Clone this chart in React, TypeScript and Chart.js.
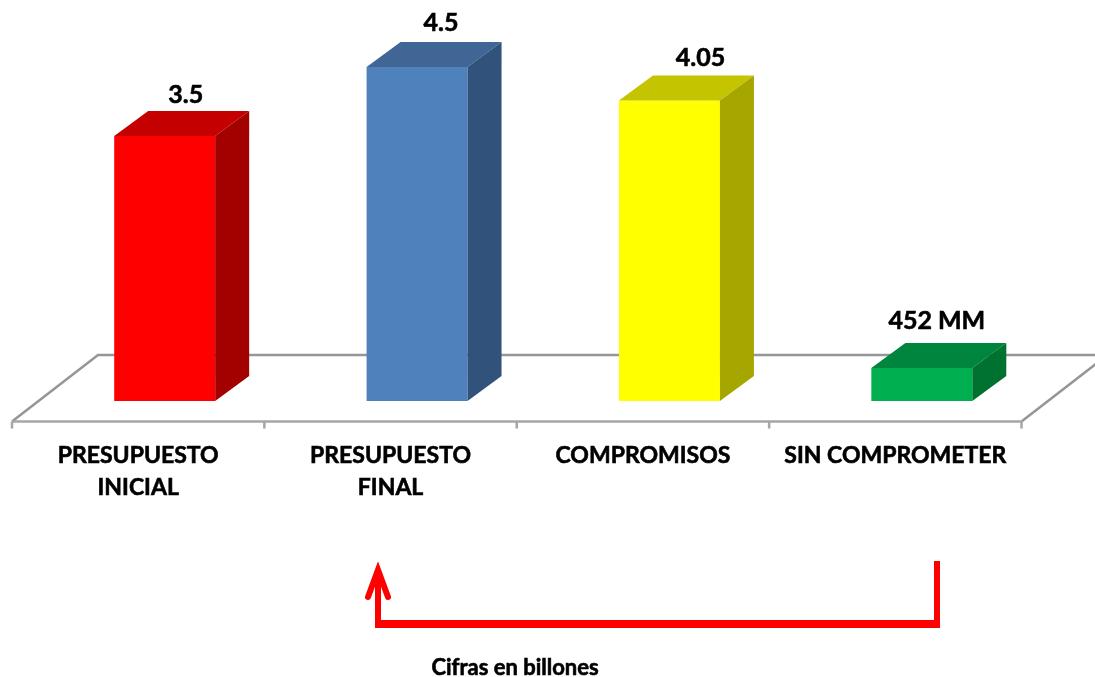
import React, { useEffect, useRef } from "react";
import { Chart, registerables } from "chart.js";

Chart.register(...registerables);

const categories = [
  ["PRESUPUESTO", "INICIAL"],
  ["PRESUPUESTO", "FINAL"],
  ["COMPROMISOS"],
  ["SIN COMPROMETER"],
];
const values = [3.57, 4.5, 4.05, 0.445];
const valueLabels = ["3.5", "4.5", "4.05", "452 MM"];
const caption = "Cifras en billones";

const frontColors = ["#FF0000", "#4F81BD", "#FFFF00", "#00B050"];
const topColors = ["#C40000", "#3F6695", "#C4C400", "#00853D"];
const sideColors = ["#A30000", "#31527A", "#A6A600", "#00722F"];
const labelShift = [21, 24, 31, 15];
const labelRise = [16, 19, 18, 22];

const DEPTH_X = 34;
const DEPTH_Y = 25;
const AXIS_SHIFT = 26.5;
const FONT = "Lato, Carlito, sans-serif";

const face = (ctx: CanvasRenderingContext2D, pts: number[][], color: string) => {
  ctx.fillStyle = color;
  ctx.beginPath();
  pts.forEach(([x, y], i) => (i ? ctx.lineTo(x, y) : ctx.moveTo(x, y)));
  ctx.closePath();
  ctx.fill();
};

const boldText = (ctx: CanvasRenderingContext2D, text: string, x: number, y: number) => {
  ctx.fillStyle = "#000";
  ctx.strokeStyle = "#000";
  ctx.lineWidth = 0.6;
  ctx.textAlign = "center";
  ctx.textBaseline = "middle";
  ctx.strokeText(text, x, y);
  ctx.fillText(text, x, y);
};

const floorPlugin = {
  id: "floor",
  beforeDatasetsDraw(chart: any) {
    const { ctx, chartArea } = chart;
    const left = chartArea.left - AXIS_SHIFT;
    const right = chartArea.right - AXIS_SHIFT;
    const front = chartArea.bottom + 20.5;
    const back = chartArea.bottom - 46;
    const run = 86;
    ctx.save();
    ctx.strokeStyle = "#969696";
    ctx.lineWidth = 2.5;
    ctx.beginPath();
    ctx.moveTo(left, front);
    ctx.lineTo(left + run, back);
    ctx.lineTo(right + run, back);
    ctx.lineTo(right, front);
    ctx.stroke();
    ctx.strokeStyle = "#A6A6A6";
    ctx.lineWidth = 2.5;
    ctx.beginPath();
    ctx.moveTo(left, front);
    ctx.lineTo(right, front);
    const step = (right - left) / categories.length;
    for (let i = 0; i <= categories.length; i++) {
      ctx.moveTo(left + step * i, front);
      ctx.lineTo(left + step * i, front + 7);
    }
    ctx.stroke();
    ctx.restore();
  },
};

const barFacesPlugin = {
  id: "barFaces",
  afterDatasetsDraw(chart: any) {
    const { ctx } = chart;
    const meta = chart.getDatasetMeta(0);
    ctx.save();
    meta.data.forEach((bar: any, i: number) => {
      const { x, y, base, width } = bar.getProps(["x", "y", "base", "width"], true);
      const l = x - width / 2;
      const r = x + width / 2;
      face(ctx, [[l, y], [r, y], [r + DEPTH_X, y - DEPTH_Y], [l + DEPTH_X, y - DEPTH_Y]], topColors[i]);
      face(ctx, [[r, y], [r + DEPTH_X, y - DEPTH_Y], [r + DEPTH_X, base - DEPTH_Y], [r, base]], sideColors[i]);
      ctx.font = `bold 25px ${FONT}`;
      boldText(ctx, valueLabels[i], x + labelShift[i], y - DEPTH_Y - labelRise[i]);
    });
    ctx.restore();
  },
};

const annotationPlugin = {
  id: "annotation",
  afterDraw(chart: any) {
    const { ctx } = chart;
    ctx.save();
    ctx.strokeStyle = "#FF0000";
    ctx.lineWidth = 6;
    ctx.lineCap = "butt";
    ctx.beginPath();
    ctx.moveTo(937, 561);
    ctx.lineTo(937, 628);
    ctx.moveTo(378, 628);
    ctx.lineTo(378, 572);
    ctx.stroke();
    ctx.lineWidth = 8;
    ctx.beginPath();
    ctx.moveTo(375, 624);
    ctx.lineTo(940, 624);
    ctx.stroke();
    ctx.lineWidth = 6;
    ctx.lineCap = "round";
    ctx.lineJoin = "miter";
    ctx.beginPath();
    ctx.moveTo(368, 597);
    ctx.lineTo(378, 570);
    ctx.lineTo(388, 597);
    ctx.stroke();
    ctx.font = `bold 22px ${FONT}`;
    boldText(ctx, caption, 515, 668);
    ctx.restore();
  },
};

export default function App() {
  const ref = useRef<HTMLCanvasElement>(null);
  useEffect(() => {
    const chart = new Chart(ref.current!, {
      type: "bar",
      data: {
        labels: categories,
        datasets: [
          {
            data: values,
            backgroundColor: frontColors,
            borderWidth: 0,
            categoryPercentage: 1,
            barPercentage: 0.4,
          },
        ],
      },
      options: {
        responsive: false,
        animation: false,
        layout: { padding: { left: 38.5, right: 47, top: 30, bottom: 0 } },
        plugins: { legend: { display: false }, tooltip: { enabled: false } },
        scales: {
          y: { display: false, min: 0, max: 5 },
          x: {
            afterFit: (s: any) => {
              s.height = 276;
            },
            grid: { display: false },
            border: { display: false },
            ticks: {
              color: "#000",
              padding: 31,
              autoSkip: false,
              maxRotation: 0,
              labelOffset: -AXIS_SHIFT,
              textStrokeColor: "#000",
              textStrokeWidth: 0.6,
              font: { family: FONT, weight: "bold", size: 23, lineHeight: 32 / 23 },
            },
          },
        },
      },
      plugins: [floorPlugin, barFacesPlugin, annotationPlugin],
    });
    return () => chart.destroy();
  }, []);
  return (
    <div style={{ position: "absolute", left: 0, top: 0, width: 1095, height: 677, background: "#fff", overflow: "hidden" }}>
      <canvas ref={ref} width={1095} height={677} style={{ display: "block" }} />
    </div>
  );
}
